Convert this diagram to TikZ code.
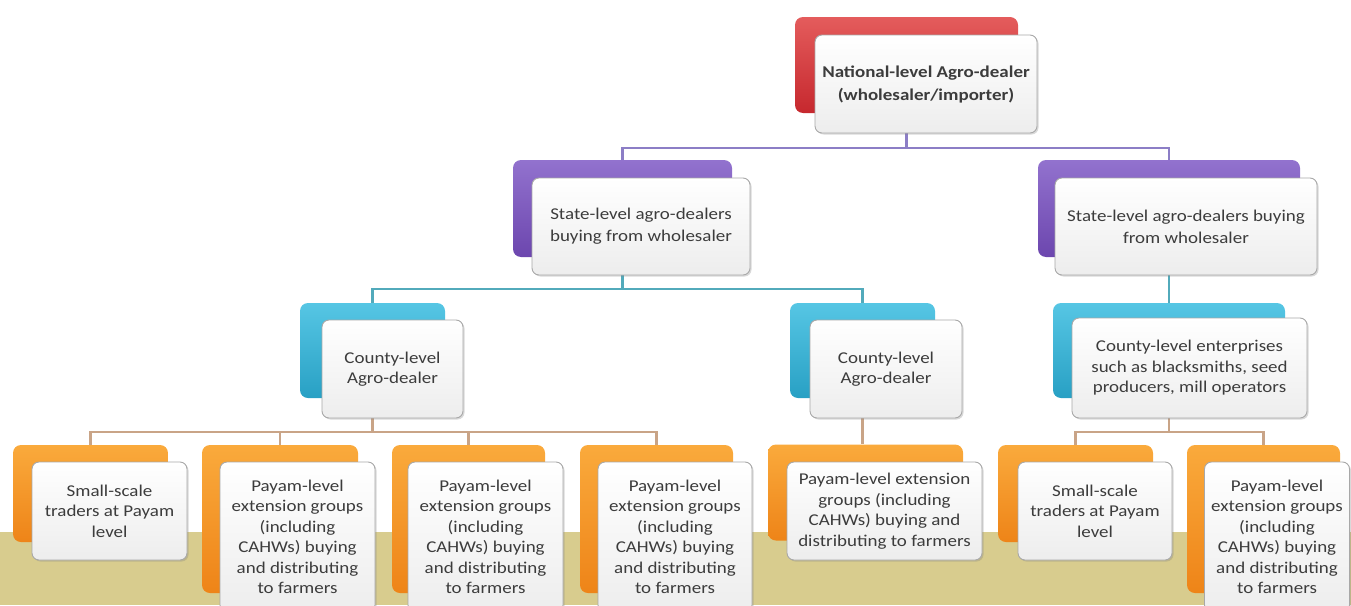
\documentclass[tikz,border=0pt]{standalone}
\usepackage{fontspec}
\setmainfont{Carlito}[FakeStretch=1.15]
\usetikzlibrary{shadows}

\pgfdeclarelayer{bg}
\pgfsetlayers{bg,main}

\definecolor{khaki}{HTML}{D8CC8E}
\definecolor{cardline}{HTML}{A8A8A8}
\definecolor{cardgray}{HTML}{EDEDED}
\definecolor{textgray}{HTML}{3C3C3C}
\definecolor{purpleline}{HTML}{8C7EC6}
\definecolor{tealline}{HTML}{52AABB}
\definecolor{tanline}{HTML}{C9A487}
\definecolor{redtop}{HTML}{E45C5C}
\definecolor{redbot}{HTML}{C6282E}
\definecolor{purpletop}{HTML}{9272CE}
\definecolor{purplebot}{HTML}{6C46AE}
\definecolor{tealtop}{HTML}{56C6E4}
\definecolor{tealbot}{HTML}{28A0C4}
\definecolor{orangetop}{HTML}{FAAA3C}
\definecolor{orangebot}{HTML}{EE8418}

\tikzset{
  backbox/.style={rounded corners=8pt, draw=none, inner sep=0pt},
  redback/.style={backbox, top color=redtop, bottom color=redbot},
  purpleback/.style={backbox, top color=purpletop, bottom color=purplebot},
  tealback/.style={backbox, top color=tealtop, bottom color=tealbot},
  orangeback/.style={backbox, top color=orangetop, bottom color=orangebot},
  card/.style={rounded corners=7pt, draw=cardline, line width=.9pt,
    top color=white, bottom color=cardgray, text=textgray, align=center,
    inner sep=0pt, font=\fontsize{16.5}{20.5}\selectfont,
    drop shadow={opacity=.3, shadow xshift=1.5pt, shadow yshift=-1.5pt}},
  link/.style={line width=2.6pt}
}

\begin{document}
\begin{tikzpicture}[x=1pt,y=-1pt]
  \useasboundingbox (0,0) rectangle (1351,605);
  \clip (0,0) rectangle (1351,605);

  % national level
  \node[redback, minimum width=223pt, minimum height=96pt] (natB) at (906.5,65) {};
  \node[card, minimum width=222pt, minimum height=98pt,
    font=\fontsize{16.5}{23}\selectfont\bfseries] (nat) at (926,84)
    {National-level Agro-dealer\\(wholesaler/importer)};

  % state level
  \node[purpleback, minimum width=219pt, minimum height=97pt] (stLB) at (622.5,208.5) {};
  \node[card, minimum width=218pt, minimum height=97pt, font=\fontsize{16.5}{22}\selectfont] (stL) at (641,226.5)
    {State-level agro-dealers\\buying from wholesaler};
  \node[purpleback, minimum width=262pt, minimum height=97pt] (stRB) at (1169,208.5) {};
  \node[card, minimum width=262pt, minimum height=97pt, font=\fontsize{16.5}{22}\selectfont] (stR) at (1186,226.5)
    {State-level agro-dealers buying\\from wholesaler};

  % county level
  \node[tealback, minimum width=145pt, minimum height=95pt] (coLB) at (372.5,350.5) {};
  \node[card, minimum width=141pt, minimum height=98pt] (coL) at (392.5,369)
    {County-level\\Agro-dealer};
  \node[tealback, minimum width=145pt, minimum height=95pt] (coMB) at (862.5,350.5) {};
  \node[card, minimum width=152pt, minimum height=98pt] (coM) at (886,369)
    {County-level\\Agro-dealer};
  \node[tealback, minimum width=232pt, minimum height=95pt] (coRB) at (1169,350.5) {};
  \node[card, minimum width=235pt, minimum height=100pt] (coR) at (1189.5,368)
    {County-level enterprises\\such as blacksmiths, seed\\producers, mill operators};

  % payam level
  \node[orangeback, minimum width=155pt, minimum height=97pt] (b1B) at (90.5,493.5) {};
  \node[card, minimum width=155pt, minimum height=98pt] (b1) at (109.5,511)
    {Small-scale\\traders at Payam\\level};
  \node[orangeback, minimum width=156pt, minimum height=148pt] (b2B) at (280,519) {};
  \node[card, minimum width=155pt, minimum height=150pt] (b2) at (297.5,537)
    {Payam-level\\extension groups\\(including\\CAHWs) buying\\and distributing\\to farmers};
  \node[orangeback, minimum width=153pt, minimum height=148pt] (b3B) at (468.5,519) {};
  \node[card, minimum width=155pt, minimum height=150pt] (b3) at (485.5,537)
    {Payam-level\\extension groups\\(including\\CAHWs) buying\\and distributing\\to farmers};
  \node[orangeback, minimum width=153pt, minimum height=148pt] (b4B) at (656.5,519) {};
  \node[card, minimum width=154pt, minimum height=150pt] (b4) at (675,537)
    {Payam-level\\extension groups\\(including\\CAHWs) buying\\and distributing\\to farmers};
  \node[orangeback, minimum width=195pt, minimum height=96pt] (b5B) at (865.5,492.5) {};
  \node[card, minimum width=195pt, minimum height=98pt] (b5) at (884.5,511)
    {Payam-level extension\\groups (including\\CAHWs) buying and\\distributing to farmers};
  \node[orangeback, minimum width=155pt, minimum height=97pt] (b6B) at (1075.5,493.5) {};
  \node[card, minimum width=154pt, minimum height=98pt] (b6) at (1095,511)
    {Small-scale\\traders at Payam\\level};
  \node[orangeback, minimum width=153pt, minimum height=148pt] (b7B) at (1263.5,519) {};
  \node[card, minimum width=145pt, minimum height=150pt] (b7) at (1277,537)
    {Payam-level\\extension groups\\(including\\CAHWs) buying\\and distributing\\to farmers};

  \begin{pgfonlayer}{bg}
    \fill[khaki] (0,532) rectangle (1351,605);
    % connectors
    \draw[link, purpleline] (natB.south) -- (natB.south |- 0,148);
    \draw[link, purpleline] (stLB.north) |- (natB.south |- 0,148) -| (stRB.north);
    \draw[link, tealline] (stLB.south) -- (stLB.south |- 0,289);
    \draw[link, tealline] (coLB.north) |- (stLB.south |- 0,289) -| (coMB.north);
    \draw[link, tealline] (stRB.south) -- (coRB.north);
    \draw[link, tanline] (coLB.south) -- (coLB.south |- 0,432);
    \draw[link, tanline] (b1B.north) |- (coLB.south |- 0,432) -| (b4B.north);
    \draw[link, tanline] (b2B.north) -- (b2B.north |- 0,432);
    \draw[link, tanline] (b3B.north) -- (b3B.north |- 0,432);
    \draw[link, tanline] (coMB.south) -- (coMB.south |- b5B.north);
    \draw[link, tanline] (coRB.south) -- (coRB.south |- 0,432);
    \draw[link, tanline] (b6B.north) |- (coRB.south |- 0,432) -| (b7B.north);
  \end{pgfonlayer}
\end{tikzpicture}
\end{document}
